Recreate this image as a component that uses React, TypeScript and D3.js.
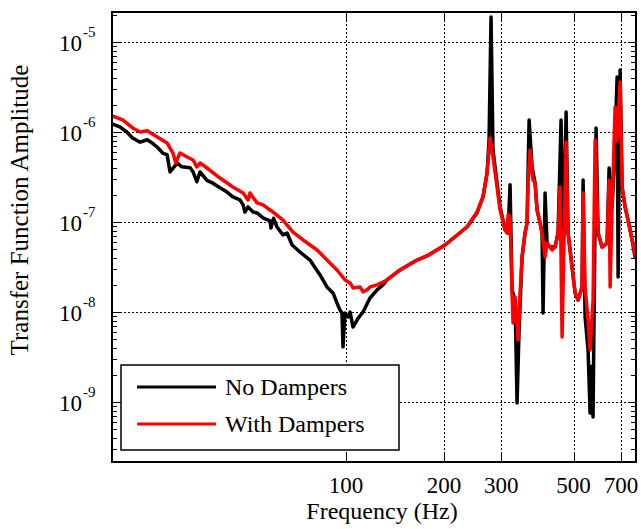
import React from "react";
import * as d3 from "d3";

const xTickValues = [100, 200, 300, 500, 700];
const yTickExponents = [-9, -8, -7, -6, -5];
const seriesNames = ["No Dampers", "With Dampers"];

const noDampFreq = [19.1, 20.2, 21.2, 22.1, 23.3, 24.5, 25.3, 26.3, 27.4, 28.2, 28.8, 30.3, 31.3, 33.2, 33.9, 34.8, 35.6, 37.4, 39.0, 41.0, 43.1, 44.9, 47.2, 48.3, 48.9, 50.0, 51.8, 53.3, 55.6, 58.4, 58.8, 59.9, 61.4, 64.0, 65.9, 68.3, 72.2, 77.5, 83.2, 87.4, 91.2, 93.8, 95.8, 97.2, 97.9, 99.3, 101.4, 102.9, 105.1, 108.9, 112.8, 118.5, 124.6, 129.9, 133.7, 146.6, 165.3, 177.4, 201.5, 235.4, 252.7, 263.6, 271.3, 275.1, 279.0, 282.9, 287.0, 297.4, 308.1, 314.7, 319.2, 323.7, 330.7, 335.4, 340.2, 347.5, 354.9, 360.0, 365.2, 373.0, 381.0, 386.4, 394.7, 400.3, 403.1, 408.9, 414.7, 423.6, 438.9, 448.3, 457.9, 464.5, 474.5, 481.2, 495.0, 505.7, 516.5, 531.3, 535.1, 542.7, 554.3, 562.2, 568, 574.2, 579, 586.6, 594.9, 612.0, 634.1, 643.2, 657.0, 668, 680.8, 685.5, 695.3, 705.2, 720.2, 735.6, 756.8, 773.0, 778];
const noDampAmp = [1.23e-6, 1.14e-6, 1.0e-6, 8.6e-7, 7.7e-7, 8.2e-7, 7.6e-7, 6.8e-7, 5.8e-7, 5.6e-7, 3.6e-7, 4.5e-7, 4.1e-7, 4.0e-7, 3.6e-7, 2.8e-7, 3.6e-7, 2.9e-7, 2.7e-7, 2.4e-7, 2.15e-7, 1.9e-7, 1.76e-7, 1.55e-7, 1.29e-7, 1.47e-7, 1.29e-7, 1.26e-7, 1.11e-7, 1.03e-7, 8.6e-8, 1.1e-7, 8.8e-8, 7.2e-8, 7.55e-8, 5.55e-8, 4.64e-8, 3.78e-8, 2.58e-8, 1.9e-8, 1.63e-8, 1.26e-8, 1.05e-8, 9.75e-9, 4.1e-9, 9.75e-9, 8.8e-9, 1.0e-8, 6.8e-9, 8.5e-9, 1.0e-8, 1.43e-8, 1.76e-8, 2.0e-8, 2.27e-8, 2.93e-8, 3.78e-8, 4.19e-8, 5.55e-8, 8.8e-8, 1.26e-7, 1.9e-7, 3.5e-7, 8.15e-7, 1.9e-5, 6.3e-7, 4.1e-7, 1.47e-7, 8.15e-8, 7.55e-8, 2.6e-7, 1.76e-8, 1.36e-8, 9.75e-10, 6.3e-9, 4.08e-8, 7.55e-8, 9.75e-8, 1.36e-6, 4.08e-7, 2.7e-7, 1.36e-7, 9.75e-8, 7.55e-8, 9.75e-9, 2.1e-7, 5.84e-8, 5.27e-8, 5.27e-8, 7.55e-8, 1.36e-6, 4.9e-8, 1.67e-6, 7.55e-8, 3.16e-8, 1.63e-8, 1.36e-8, 1.9e-8, 2.93e-7, 8.8e-9, 3.78e-9, 7.55e-10, 2.5e-9, 6.8e-10, 1.5e-8, 1.11e-6, 7.55e-8, 5.27e-8, 5.84e-8, 3.98e-7, 1.47e-7, 5e-7, 4.08e-6, 2.45e-8, 4.89e-6, 2.45e-7, 1.47e-7, 1.05e-7, 6.31e-8, 4.08e-8, 4.0e-8];

const dampFreq = [19.1, 20.6, 22.1, 23.3, 24.5, 26.3, 28.2, 29.4, 30.0, 30.9, 32.5, 33.9, 34.8, 35.6, 37.4, 41.0, 44.9, 48.3, 50.0, 50.7, 53.3, 55.6, 58.4, 59.7, 64.0, 68.7, 73.8, 81.5, 87.4, 93.8, 99.3, 102.9, 105.1, 110.4, 112.8, 116.0, 118.5, 124.6, 129.9, 133.7, 146.6, 165.3, 177.4, 201.5, 235.4, 252.7, 263.6, 271.3, 277.1, 282.9, 291.1, 297.4, 308.1, 312.5, 314.7, 319.2, 323.7, 326.0, 330.7, 337.8, 342.6, 347.5, 354.9, 360.0, 362.6, 367.7, 375.6, 381.0, 386.4, 394.7, 400.3, 408.9, 414.7, 429.7, 438.9, 448.3, 454.7, 461.2, 474.5, 481.2, 495.0, 505.7, 516.5, 531.3, 535.1, 542.7, 554.3, 562.2, 574.2, 582.5, 594.9, 612.0, 634.1, 643.2, 647.9, 657.0, 671.2, 680, 695.3, 705.2, 720.2, 735.6, 756.8, 778];
const dampAmp = [1.51e-6, 1.36e-6, 1.11e-6, 1.0e-6, 1.03e-6, 8.8e-7, 7.55e-7, 5.84e-7, 4.52e-7, 5.84e-7, 5.27e-7, 4.89e-7, 4.08e-7, 4.52e-7, 3.98e-7, 3.08e-7, 2.45e-7, 2.1e-7, 1.76e-7, 2.1e-7, 1.63e-7, 1.55e-7, 1.36e-7, 1.29e-7, 1.05e-7, 7.74e-8, 6.31e-8, 4.89e-8, 3.78e-8, 2.93e-8, 2.27e-8, 2.1e-8, 1.85e-8, 1.9e-8, 1.67e-8, 1.76e-8, 1.9e-8, 2.0e-8, 2.15e-8, 2.27e-8, 2.93e-8, 3.78e-8, 4.19e-8, 5.55e-8, 8.8e-8, 1.29e-7, 1.9e-7, 3.5e-7, 8.6e-7, 5.27e-7, 2.45e-7, 1.36e-7, 8.15e-8, 7.55e-8, 1.2e-7, 1.14e-7, 1.63e-8, 7.55e-9, 1.47e-8, 4.89e-9, 1.63e-8, 4.08e-8, 7.55e-8, 9.75e-8, 2.71e-7, 6.31e-7, 2.93e-7, 2.71e-7, 1.36e-7, 9.75e-8, 7.55e-8, 4.08e-8, 5.84e-8, 4.89e-8, 5.27e-8, 7.55e-8, 2.45e-7, 5.27e-9, 7.74e-7, 7.55e-8, 3.16e-8, 1.63e-8, 1.36e-8, 1.9e-8, 2.1e-7, 1.9e-8, 8.15e-9, 3.78e-9, 1.36e-8, 8.15e-7, 7.55e-8, 5.27e-8, 5.84e-8, 2.93e-7, 1.9e-8, 1.47e-7, 1.9e-6, 8e-7, 3.59e-6, 2.45e-7, 1.47e-7, 1.05e-7, 6.31e-8, 4.08e-8];

const W = 641, H = 529;
const L = 112, R = 636, T = 12, B = 462;
const FONT = "'Liberation Serif', 'Times New Roman', serif";

export default function App() {
  const x = d3.scaleLog().domain([19.1, 778]).range([L, R]);
  const y = d3.scaleLog().domain([Math.pow(10, -9.6667), Math.pow(10, -4.6667)]).range([B, T]);
  const line = d3.line<[number, number]>().x(d => x(d[0])).y(d => y(d[1])).curve(d3.curveLinear);
  const noDamp = noDampFreq.map((f, i) => [f, noDampAmp[i]] as [number, number]);
  const damp = dampFreq.map((f, i) => [f, dampAmp[i]] as [number, number]);

  const minor: number[] = [];
  for (let e = -10; e <= -5; e++) {
    for (let m = 1; m <= 9; m++) {
      const v = m * Math.pow(10, e);
      if (v >= y.domain()[0] && v <= y.domain()[1]) minor.push(v);
    }
  }
  const snap = (v: number) => Math.round(v) + 0.5;

  return (
    <svg width={W} height={H} style={{ position: "absolute", left: 0, top: 0, background: "#fff" }} fontFamily={FONT}>
      <defs>
        <clipPath id="plotclip"><rect x={L} y={T} width={R - L} height={B - T} /></clipPath>
      </defs>
      {/* grid */}
      {xTickValues.map(v => (
        <line key={"gx" + v} x1={snap(x(v))} x2={snap(x(v))} y1={T} y2={B} stroke="#000" strokeWidth={1} strokeDasharray="2,2" shapeRendering="crispEdges" />
      ))}
      {yTickExponents.map(e => (
        <line key={"gy" + e} x1={L} x2={R} y1={snap(y(Math.pow(10, e)))} y2={snap(y(Math.pow(10, e)))} stroke="#000" strokeWidth={1} strokeDasharray="2,2" shapeRendering="crispEdges" />
      ))}
      {/* minor y ticks */}
      {minor.map((v, i) => {
        const isMajor = Math.abs(Math.log10(v) - Math.round(Math.log10(v))) < 1e-6;
        const len = isMajor ? 8 : 5;
        return (
          <g key={"mt" + i}>
            <line x1={L} x2={L + len} y1={snap(y(v))} y2={snap(y(v))} stroke="#000" strokeWidth={1} shapeRendering="crispEdges" />
            <line x1={R - len} x2={R} y1={snap(y(v))} y2={snap(y(v))} stroke="#000" strokeWidth={1} shapeRendering="crispEdges" />
          </g>
        );
      })}
      {xTickValues.map(v => (
        <g key={"xt" + v}>
          <line x1={snap(x(v))} x2={snap(x(v))} y1={B} y2={B - 8} stroke="#000" strokeWidth={1} shapeRendering="crispEdges" />
          <line x1={snap(x(v))} x2={snap(x(v))} y1={T} y2={T + 8} stroke="#000" strokeWidth={1} shapeRendering="crispEdges" />
        </g>
      ))}
      {/* series */}
      <g clipPath="url(#plotclip)">
        <path d={line(noDamp) || ""} fill="none" stroke="#000" strokeWidth={3.5} strokeLinejoin="round" />
        <path d={line(damp) || ""} fill="none" stroke="#ff0000" strokeWidth={3.5} strokeLinejoin="round" />
      </g>
      {/* frame */}
      <rect x={L} y={T} width={R - L} height={B - T} fill="none" stroke="#000" strokeWidth={2} />
      {/* x tick labels */}
      {xTickValues.map(v => (
        <text key={"xl" + v} x={x(v)} y={493} textAnchor="middle" fontSize={23} fill="#000">{v}</text>
      ))}
      {/* y tick labels */}
      {yTickExponents.map(e => {
        const yy = y(Math.pow(10, e));
        return (
          <g key={"yl" + e}>
            <text x={82} y={yy + 9} textAnchor="end" fontSize={23} fill="#000">10</text>
            <text x={83} y={yy - 5} textAnchor="start" fontSize={15} fill="#000">{String(e)}</text>
          </g>
        );
      })}
      {/* axis titles */}
      <text x={(L + R) / 2 + 8} y={519} textAnchor="middle" fontSize={24} fill="#000">Frequency (Hz)</text>
      <text transform={`translate(28,210) rotate(-90)`} textAnchor="middle" fontSize={25} fill="#000">Transfer Function Amplitude</text>
      {/* legend */}
      <rect x={121} y={365} width={278} height={85} fill="#fff" stroke="#000" strokeWidth={1.5} />
      {seriesNames.map((name, i) => {
        const ly = 387 + i * 37;
        return (
          <g key={name}>
            <line x1={137} x2={216} y1={ly} y2={ly} stroke={i === 0 ? "#000" : "#ff0000"} strokeWidth={3} />
            <text x={225} y={ly + 8} fontSize={24} fill="#000">{name}</text>
          </g>
        );
      })}
    </svg>
  );
}
